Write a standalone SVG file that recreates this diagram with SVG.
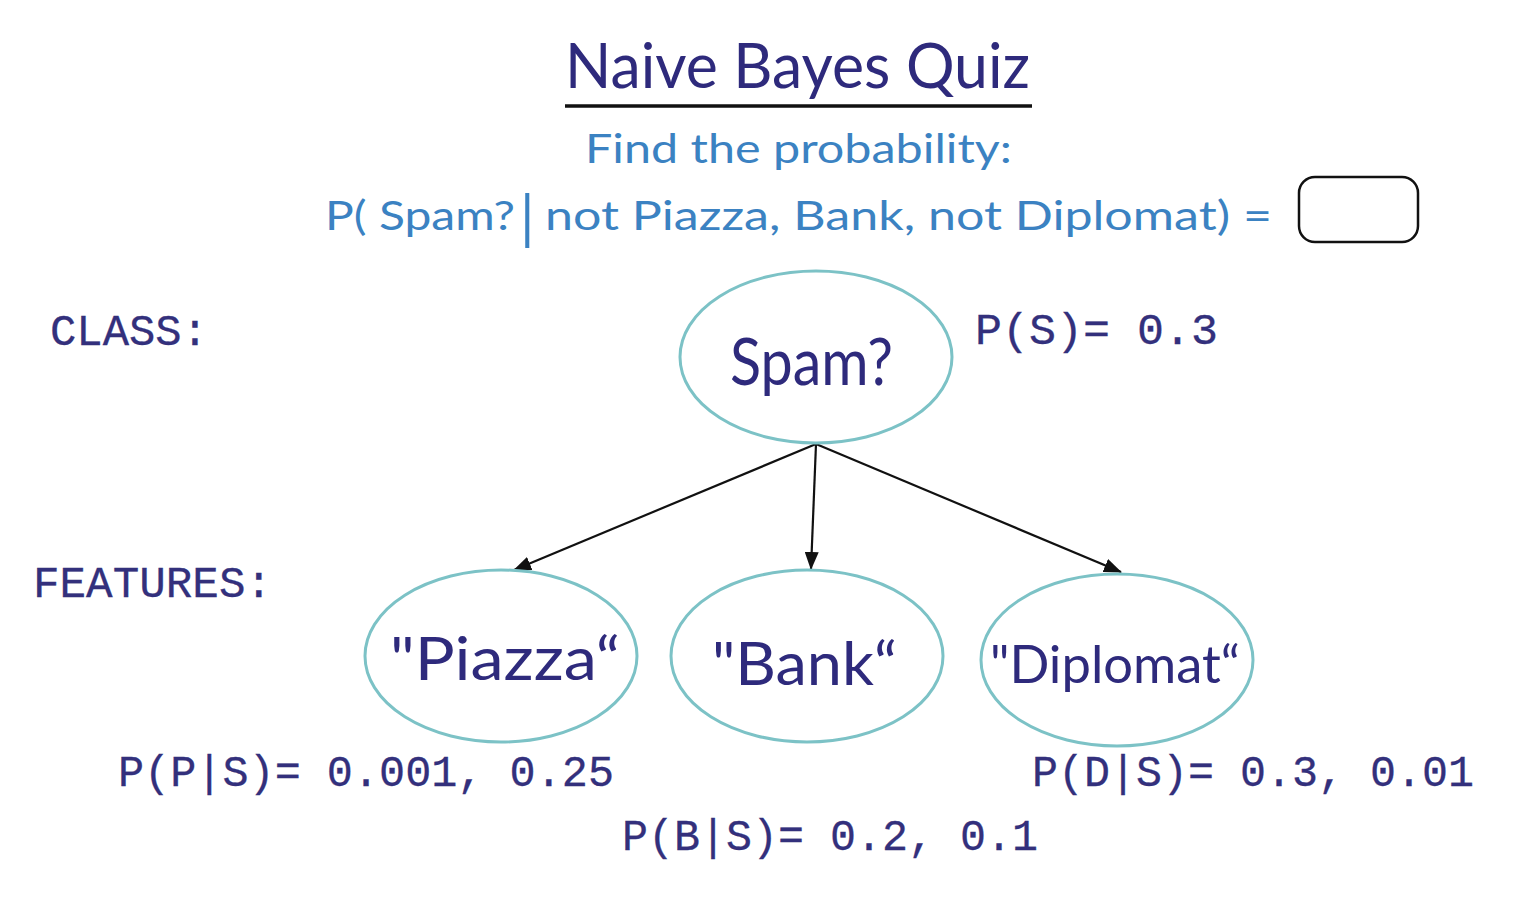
<svg xmlns="http://www.w3.org/2000/svg" width="1516" height="898" viewBox="0 0 1516 898">
<defs>
<style>
.hand{font-family:"Lato","Open Sans",sans-serif;fill:#2e2a7c;}
.blue{font-family:"Lato","Open Sans",sans-serif;fill:#3b82c2;}
.mono{font-family:"Liberation Mono","Courier New",monospace;fill:#33307c;font-size:44px;stroke:#33307c;stroke-width:0.3;}
.node{fill:#ffffff;stroke:#7cc2c6;stroke-width:3;}
.edge{stroke:#111111;stroke-width:2.2;fill:none;marker-end:url(#arr);}
</style>
<marker id="arr" viewBox="0 0 18 14" refX="17" refY="7" markerWidth="18" markerHeight="14" orient="auto" markerUnits="userSpaceOnUse">
<path d="M0,0 L18,7 L0,14 z" fill="#111111"/>
</marker>
</defs>
<rect width="1516" height="898" fill="#ffffff"/>

<g id="header">
<text class="hand" x="565" y="88" font-size="62" textLength="465" lengthAdjust="spacingAndGlyphs">Naive Bayes Quiz</text>
<line x1="565" y1="106" x2="1032" y2="106" stroke="#111111" stroke-width="3.5"/>
<text class="blue" x="585" y="163" font-size="40" textLength="427" lengthAdjust="spacingAndGlyphs">Find the probability:</text>
<text class="blue" y="230" font-size="40"><tspan x="325" textLength="190" lengthAdjust="spacingAndGlyphs">P( Spam?</tspan><tspan x="520" font-size="58" y="238">|</tspan><tspan x="545" y="230" textLength="727" lengthAdjust="spacingAndGlyphs">not Piazza, Bank, not Diplomat) =</tspan></text>
<rect x="1299" y="177" width="119" height="65" rx="16" ry="16" fill="none" stroke="#111111" stroke-width="2.5"/>
</g>

<g id="labels">
<text class="mono" x="50" y="345" textLength="158" lengthAdjust="spacingAndGlyphs">CLASS:</text>
<text class="mono" x="33" y="597" textLength="239" lengthAdjust="spacingAndGlyphs">FEATURES:</text>
</g>

<g id="connectors">
<line class="edge" x1="816" y1="444" x2="514" y2="570"/>
<line class="edge" x1="816" y1="444" x2="811" y2="569"/>
<line class="edge" x1="816" y1="444" x2="1121" y2="572"/>
</g>

<g id="node-spam">
<ellipse class="node" cx="816" cy="357" rx="136" ry="86"/>
<text class="hand" x="730" y="385" font-size="66" textLength="163" lengthAdjust="spacingAndGlyphs">Spam?</text>
<text class="mono" x="975" y="344" textLength="243" lengthAdjust="spacingAndGlyphs">P(S)= 0.3</text>
</g>

<g id="node-piazza">
<ellipse class="node" cx="501" cy="656" rx="136" ry="86"/>
<text class="hand" x="390" y="680" font-size="60" textLength="230" lengthAdjust="spacingAndGlyphs">"Piazza“</text>
<text class="mono" x="118" y="786" textLength="496" lengthAdjust="spacingAndGlyphs">P(P|S)= 0.001, 0.25</text>
</g>

<g id="node-bank">
<ellipse class="node" cx="807" cy="656" rx="136" ry="86"/>
<text class="hand" x="712" y="685" font-size="60" textLength="185" lengthAdjust="spacingAndGlyphs">"Bank“</text>
<text class="mono" x="622" y="850" textLength="416" lengthAdjust="spacingAndGlyphs">P(B|S)= 0.2, 0.1</text>
</g>

<g id="node-diplomat">
<ellipse class="node" cx="1117" cy="660" rx="136" ry="86"/>
<text class="hand" x="990" y="683" font-size="52" textLength="250" lengthAdjust="spacingAndGlyphs">"Diplomat“</text>
<text class="mono" x="1032" y="786" textLength="442" lengthAdjust="spacingAndGlyphs">P(D|S)= 0.3, 0.01</text>
</g>
</svg>
